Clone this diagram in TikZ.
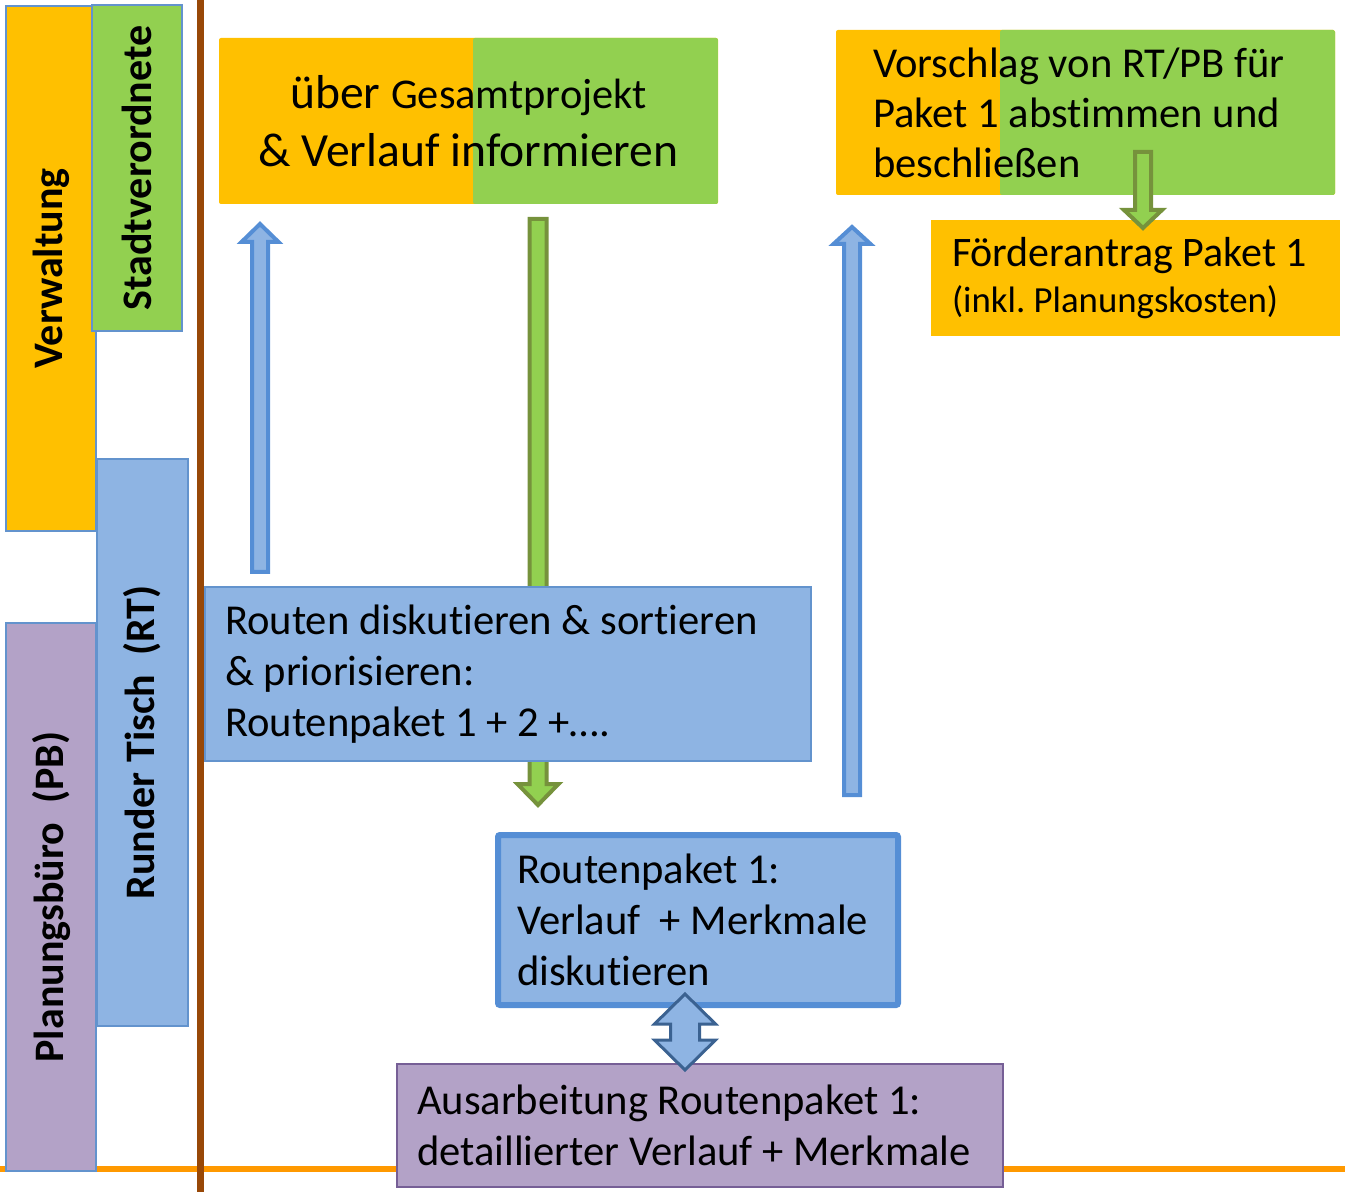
\documentclass[tikz,border=0pt]{standalone}
\usepackage{fontspec}
\setmainfont{Carlito}[Ligatures=NoCommon]
\frenchspacing
\usetikzlibrary{calc}
\definecolor{cOrange}{HTML}{FFC000}
\definecolor{cGreen}{HTML}{92D050}
\definecolor{cBlue}{HTML}{8EB4E3}
\definecolor{cPurple}{HTML}{B3A2C7}
\definecolor{cBorder}{HTML}{6393CD}
\definecolor{cBlueDark}{HTML}{558ED5}
\definecolor{cNavy}{HTML}{3B6291}
\definecolor{cGreenDark}{HTML}{76923C}
\definecolor{cPurpleDark}{HTML}{765F96}
\definecolor{cBrown}{HTML}{984807}
\definecolor{cLine}{HTML}{FF9900}
\newcommand\blkarrow[6]{%
  \path[#6] let \p1=(#1), \p2=(#2), \n1={sign(\y2-\y1)} in
  (\x1-#3,\y1) -- (\x1-#3,\y2-\n1*#5) -- (\x1-#4,\y2-\n1*#5) -- (\x2,\y2)
  -- (\x1+#4,\y2-\n1*#5) -- (\x1+#3,\y2-\n1*#5) -- (\x1+#3,\y1) -- cycle;}
\newcommand\dblarrow[6]{%
  \path[#6] let \p1=(#1), \p2=(#2) in
  (\x1,\y1) -- (\x1+#4,\y1-#5) -- (\x1+#3,\y1-#5) -- (\x1+#3,\y2+#5)
  -- (\x1+#4,\y2+#5) -- (\x2,\y2) -- (\x1-#4,\y2+#5) -- (\x1-#3,\y2+#5)
  -- (\x1-#3,\y1-#5) -- (\x1-#4,\y1-#5) -- cycle;}
\begin{document}
\begin{tikzpicture}[x=0.5pt,y=-0.5pt,
  every node/.style={outer sep=0pt},
  lane/.style={draw=cBorder, line width=1pt, rotate=90, inner sep=0pt,
    font=\fontsize{21}{25}\selectfont\bfseries},
  body/.style={inner xsep=10pt, inner ysep=0pt, align=flush left, anchor=north west,
    font=\fontsize{21.3}{25.5}\selectfont},
  bluearr/.style={fill=cBlue, draw=cBlueDark, line width=2pt},
  greenarr/.style={fill=cGreen, draw=cGreenDark, line width=2pt},
  navyarr/.style={fill=cBlue, draw=cNavy, line width=1.5pt, line join=miter}
]
\useasboundingbox (0,0) rectangle (1345,1192);
% axes lines
\coordinate (hl) at (0,1168.5);
\coordinate (hr) at (1345,1168.5);
\coordinate (vt) at (200.5,0);
\coordinate (vb) at (200.5,1192);
\draw[cLine, line width=3pt] (hl) -- (hr);
\draw[cBrown, line width=3.5pt] (vt) -- (vb);
% lanes
\node[lane, fill=cOrange, minimum width=262.5pt, minimum height=45pt] (verw) at (51,268.5) {Verwaltung};
\node[lane, fill=cGreen, minimum width=163pt, minimum height=45pt] (stv) at (137,168) {Stadtverordnete};
\node[lane, fill=cBlue, minimum width=283.5pt, minimum height=45.5pt] (rt) at (142.5,742.5) {Runder Tisch~~(RT)};
\node[lane, fill=cPurple, minimum width=274pt, minimum height=45pt] (pb) at (51,897) {Planungsbüro~~(PB)};
% top boxes
\node[anchor=north west, inner sep=0pt, fill=cOrange, rounded corners=1pt,
  minimum width=249.5pt, minimum height=83pt, align=flush center,
  font=\fontsize{23.8}{29}\selectfont,
  path picture={\fill[cGreen] ($(path picture bounding box.north east)+(-245,0)$) rectangle (path picture bounding box.south east);}]
  (info) at (219,38) {über {\fontsize{21.2}{29}\selectfont Gesamtprojekt}\\ \& Verlauf informieren};
\node[body, fill=cOrange, rounded corners=1pt, minimum width=249.5pt, minimum height=82.5pt,
  inner xsep=18.5pt, text width=212.5pt, font=\fontsize{21.3}{25}\selectfont,
  path picture={\fill[cGreen] ($(path picture bounding box.north east)+(-335,0)$) rectangle (path picture bounding box.south east);}]
  (vorschlag) at (836,30) {Vorschlag von RT/PB für\\ Paket 1 abstimmen und\\ beschließen};
\node[body, fill=cOrange, minimum width=204.5pt, minimum height=58pt,
  inner xsep=10.5pt, text width=183.5pt, font=\fontsize{21}{23}\selectfont]
  (foerder) at (931,220) {Förderantrag Paket 1\\ {\fontsize{18.4}{23}\selectfont (inkl. Planungskosten)}};
% arrow end points
\coordinate (a1s) at (260,572);
\coordinate (a1t) at (260,224);
\coordinate (a2s) at (852,795);
\coordinate (a2t) at (852,227);
\coordinate (g1s) at (538,219);
\coordinate (g1t) at (538,805);
\coordinate (g2s) at (1143,152);
\coordinate (g2t) at (1143,228);
\coordinate (d1) at (685,994);
\coordinate (d2) at (685,1070);
\blkarrow{a1s}{a1t}{4pt}{9.25pt}{9pt}{bluearr}
\blkarrow{a2s}{a2t}{4pt}{9.25pt}{8.5pt}{bluearr}
\blkarrow{g1s}{g1t}{4.25pt}{10.25pt}{10.5pt}{greenarr}
% middle boxes
\node[body, fill=cBlue, draw=cBorder, line width=0.75pt, minimum width=303pt, minimum height=87pt,
  text width=283pt] (routen) at (205,587) {Routen diskutieren \& sortieren\\ \& priorisieren:\\ Routenpaket 1 + 2 +….};
\node[body, fill=cBlue, draw=cBlueDark, line width=3pt, rounded corners=1pt, minimum width=200pt, minimum height=85pt,
  inner xsep=9.5pt, text width=181pt] (paket) at (498,835) {Routenpaket 1:\\ Verlauf~~+ Merkmale\\ diskutieren};
\node[body, fill=cPurple, draw=cPurpleDark, line width=1pt, minimum width=303pt, minimum height=61.5pt,
  text width=283pt] (ausarb) at (397,1064) {Ausarbeitung Routenpaket 1:\\ detaillierter Verlauf + Merkmale};
\dblarrow{d1}{d2}{7.25pt}{15.25pt}{15pt}{navyarr}
\blkarrow{g2s}{g2t}{4pt}{9.5pt}{9pt}{greenarr}
\end{tikzpicture}
\end{document}
